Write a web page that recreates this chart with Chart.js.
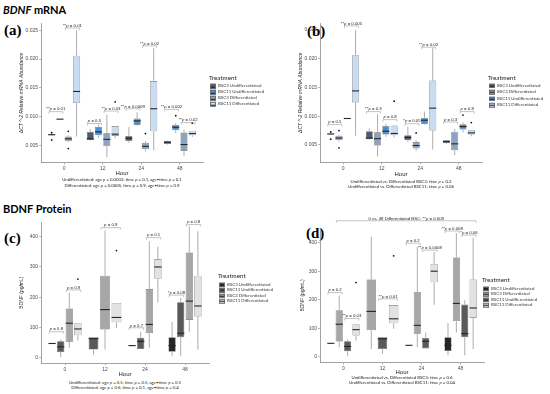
<!DOCTYPE html>
<html>
<head>
<meta charset="utf-8">
<script src="https://cdn.jsdelivr.net/npm/chart.js@4.4.1/dist/chart.umd.min.js"></script>
<style>
  body { margin: 0; background: #fff; }
  #page { position: relative; width: 550px; height: 394px; overflow: hidden; background: #fff; }
  canvas { position: absolute; }
  .t { position: absolute; white-space: nowrap; line-height: 1; color: #1a1a1a; }
  .mid { transform: translate(-50%, -50%); }
  .left { transform: translateY(-50%); }
  .head { font-family: Lato, 'Open Sans', sans-serif; font-weight: bold; font-size: 11px; color: #000; }
  .tag { font-family: 'Liberation Serif', 'DejaVu Serif', serif; font-weight: bold; font-size: 15px; color: #000; }
  .cap { font-family: Lato, 'Open Sans', sans-serif; font-size: 4.3px; color: #222; }
  .lgTitle { font-family: Lato, 'Open Sans', sans-serif; font-size: 6.2px; color: #222; }
  .lgItem { font-family: Lato, 'Open Sans', sans-serif; font-size: 4.4px; color: #333; }
  .key { position: absolute; width: 6px; height: 4.5px; border: 0.5px solid #6b6b6b; box-sizing: border-box; transform: translateY(-50%); }
  .key::after { content: ''; position: absolute; left: 0; right: 0; top: 1.4px; height: 0.8px; background: #222; }
</style>
</head>
<body>
<div id="page">
  <div class="t head left" style="left:3px;top:8.5px"><i>BDNF</i> mRNA</div>
  <div class="t head left" style="left:3px;top:207.5px">BDNF Protein</div>
  <div class="t tag left" style="left:4px;top:30px">(a)</div>
  <div class="t tag left" style="left:307px;top:31px">(b)</div>
  <div class="t tag left" style="left:4px;top:238px">(c)</div>
  <div class="t tag left" style="left:306px;top:233px">(d)</div>

  <canvas id="chartA"></canvas>
  <canvas id="chartB"></canvas>
  <canvas id="chartC"></canvas>
  <canvas id="chartD"></canvas>

  <div class="t cap mid" style="left:122px;top:180px">Undifferentiated: age <i>p</i> = 0.0003, time <i>p</i> = 0.1, age•time <i>p</i> = 0.1</div>
  <div class="t cap mid" style="left:122px;top:186px">Differentiated: age <i>p</i> = 0.0005, time <i>p</i> = 0.9, age•time <i>p</i> = 0.9</div>
  <div class="t cap mid" style="left:401px;top:181.5px">Undifferentiated vs. Differentiated BSC3: time <i>p</i> = 0.2</div>
  <div class="t cap mid" style="left:401px;top:187.3px">Undifferentiated vs. Differentiated BSC11: time <i>p</i> = 0.06</div>
  <div class="t cap mid" style="left:125px;top:382.5px">Undifferentiated: age <i>p</i> = 0.5, time <i>p</i> = 0.5, age•time <i>p</i> = 0.5</div>
  <div class="t cap mid" style="left:125px;top:387.7px">Differentiated: age <i>p</i> = 0.6, time <i>p</i> = 0.1, age•time <i>p</i> = 0.4</div>
  <div class="t cap mid" style="left:402px;top:377.5px">Undifferentiated vs. Differentiated BSC3: time <i>p</i> = 0.6</div>
  <div class="t cap mid" style="left:402px;top:383px">Undifferentiated vs. Differentiated BSC11: time <i>p</i> = 0.04</div>
</div>

<script>
// categories
const hours = ['0', '12', '24', '48'];
const treatments = ['BSC3 Undifferentiated', 'BSC11 Undifferentiated', 'BSC3 Differentiated', 'BSC11 Differentiated'];

// mRNA (ΔCT^-2), per hour: [min, q1, median, q3, max]
const mrnaBsc3Undiff  = [[0.0068, 0.00685, 0.0069, 0.0070, 0.00705], [0.0059, 0.0060, 0.0062, 0.0074, 0.0079], [0.0055, 0.0058, 0.0063, 0.0067, 0.0082], [0.0052, 0.0053, 0.0056, 0.0058, 0.0059]];
const mrnaBsc11Undiff = [[0.0096, 0.0096, 0.0096, 0.0096, 0.0096], [0.0064, 0.0068, 0.0074, 0.0083, 0.0087], [0.0085, 0.0086, 0.0093, 0.0097, 0.0108], [0.0072, 0.0077, 0.0082, 0.0086, 0.0089]];
const mrnaBsc3Diff    = [[0.0056, 0.0058, 0.0062, 0.0066, 0.0068], [0.0030, 0.0049, 0.0061, 0.0072, 0.0104], [0.0040, 0.0044, 0.0049, 0.0055, 0.0058], [0.0032, 0.0041, 0.0052, 0.0073, 0.0078]];
const mrnaBsc11Diff   = [[0.0066, 0.0124, 0.0144, 0.0206, 0.0250], [0.0063, 0.0067, 0.0070, 0.0084, 0.0084], [0.0042, 0.0075, 0.0114, 0.0162, 0.0219], [0.0065, 0.0068, 0.0071, 0.0076, 0.0076]];
const mrnaBsc3UndiffOut  = [[0.00725, 0.0060], [], [], []];
const mrnaBsc11UndiffOut = [[], [], [], [0.0102]];
const mrnaBsc3DiffOut    = [[0.0075, 0.0045], [], [0.0071], []];
const mrnaBsc11DiffOut   = [[], [0.0126], [], [0.0089]];
const mrnaTicks = [0.005, 0.010, 0.015, 0.020, 0.025];

// protein BDNF (pg/mL), per hour: [min, q1, median, q3, max]
const protBsc3Undiff  = [[47, 47, 47, 47, 47], null, [40, 40, 40, 40, 40], [5, 20, 40, 68, 118]];
const protBsc11Undiff = [[2, 19, 36, 54, 61], [10, 27, 63, 68, 68], [28, 29, 54, 66, 85], [5, 68, 81, 183, 198]];
const protBsc3Diff    = [[33, 53, 114, 163, 215], [27, 93, 159, 271, 421], [33, 81, 110, 227, 385], [85, 125, 187, 348, 434]];
const protBsc11Diff   = [[57, 74, 95, 114, 115], [98, 117, 133, 181, 181], [182, 261, 300, 326, 367], [27, 136, 171, 271, 418]];
const protBsc3UndiffOut  = [[], [], [], []];
const protBsc11UndiffOut = [[], [], [], []];
const protBsc3DiffOut    = [[], [], [], []];
const protBsc11DiffOut   = [[260], [354], [], []];
const protTicks = [0, 100, 200, 300, 400];

// comparison brackets: [hourA, seriesA, hourB, seriesB, value, label]
const bracketsA = [[0, 0, 0, 1, 0.0109, '**p = 0.01'], [0, 2, 0, 3, 0.0254, '**p = 0.01'], [1, 0, 1, 1, 0.00885, 'p = 0.5'], [1, 2, 1, 3, 0.0110, '**p = 0.03'],
                   [2, 0, 2, 1, 0.0114, '**p = 0.0009'], [2, 2, 2, 3, 0.0223, '**p = 0.02'], [3, 0, 3, 1, 0.0113, '**p = 0.002'], [3, 2, 3, 3, 0.0090, '**p = 0.02']];
const bracketsB = [[0, 0, 0, 1, 0.00857, 'p = 0.5'], [0, 2, 0, 3, 0.0257, '**p = 0.005'], [1, 0, 1, 1, 0.0108, '**p = 0.3'], [1, 2, 1, 3, 0.0094, 'p = 0.8'],
                   [2, 0, 2, 1, 0.0087, '*p = 0.05'], [2, 2, 2, 3, 0.0220, '**p = 0.02'], [3, 0, 3, 1, 0.0090, 'p = 0.3'], [3, 2, 3, 3, 0.0108, 'p = 0.8']];
const bracketsC = [[0, 0, 0, 1, 86, 'p = 0.8'], [0, 2, 0, 3, 224, 'p = 0.9'], [1, 2, 1, 3, 430, 'p = 0.9'], [2, 0, 2, 1, 99, 'p = 0.7'],
                   [2, 2, 2, 3, 397, 'p = 0.1'], [3, 0, 3, 1, 207, '*p = 0.08'], [3, 2, 3, 3, 440, 'p = 0.8']];
const bracketsD = [[0, 0, 0, 1, 225, 'p = 0.2'], [0, 2, 0, 3, 134, '**p = 0.03'], [1, 2, 1, 3, 203, '**p = 0.01'], [2, 0, 2, 1, 398, 'p = 0.2'],
                   [2, 2, 2, 3, 374, '**p = 0.0008'], [3, 0, 3, 1, 441, '**p = 0.008'], [3, 2, 3, 3, 427, '*p = 0.06'],
                   [0, 1, 3, 3, 477, '0 vs. 48 Differentiated BSC: **p = 0.009']];

const mrnaColors = ['#4e5c71', '#4a8fcf', '#8ea3bf', '#c8dcf3'];
const protColors = ['#262626', '#5a5a5a', '#a7a7a7', '#e2e2e2'];

const mrnaSeries = [
  { stats: mrnaBsc3Undiff, out: mrnaBsc3UndiffOut },
  { stats: mrnaBsc11Undiff, out: mrnaBsc11UndiffOut },
  { stats: mrnaBsc3Diff, out: mrnaBsc3DiffOut },
  { stats: mrnaBsc11Diff, out: mrnaBsc11DiffOut }
].map((s, i) => ({ ...s, name: treatments[i], color: mrnaColors[i] }));

const protSeries = [
  { stats: protBsc3Undiff, out: protBsc3UndiffOut },
  { stats: protBsc11Undiff, out: protBsc11UndiffOut },
  { stats: protBsc3Diff, out: protBsc3DiffOut },
  { stats: protBsc11Diff, out: protBsc11DiffOut }
].map((s, i) => ({ ...s, name: treatments[i], color: protColors[i] }));

// (b) and (d) group by line instead of by state
const byLine = [0, 2, 1, 3];

const LABEL_FONT = '4.3px "Liberation Sans", Arial, sans-serif';

function drawPText(ctx, text, cx, y) {
  const i = text.indexOf('p =');
  const parts = i < 0 ? [[text, '']] : [[text.slice(0, i), ''], ['p', 'italic '], [text.slice(i + 1), '']];
  let total = 0;
  parts.forEach(p => { ctx.font = p[1] + LABEL_FONT; p.w = ctx.measureText(p[0]).width; total += p.w; });
  let x = cx - total / 2;
  ctx.textAlign = 'left';
  ctx.textBaseline = 'alphabetic';
  parts.forEach(p => { ctx.font = p[1] + LABEL_FONT; ctx.fillText(p[0], x, y); x += p.w; });
}

const boxPlugin = {
  id: 'boxes',
  beforeDatasetsDraw(chart) {
    const ctx = chart.ctx, y = chart.scales.y;
    ctx.save();
    ctx.strokeStyle = '#8a8a8a';
    ctx.lineWidth = 0.7;
    chart.data.datasets.forEach((ds, d) => {
      chart.getDatasetMeta(d).data.forEach((el, i) => {
        const s = ds.stats[i];
        if (!s) return;
        ctx.beginPath();
        ctx.moveTo(el.x, y.getPixelForValue(s[4]));
        ctx.lineTo(el.x, y.getPixelForValue(s[3]));
        ctx.moveTo(el.x, y.getPixelForValue(s[1]));
        ctx.lineTo(el.x, y.getPixelForValue(s[0]));
        ctx.stroke();
      });
    });
    ctx.restore();
  },
  afterDatasetsDraw(chart, args, opts) {
    const ctx = chart.ctx, y = chart.scales.y;
    ctx.save();
    chart.data.datasets.forEach((ds, d) => {
      chart.getDatasetMeta(d).data.forEach((el, i) => {
        const s = ds.stats[i];
        if (!s) return;
        const ym = y.getPixelForValue(s[2]);
        ctx.strokeStyle = '#262626';
        ctx.lineWidth = 1.1;
        ctx.beginPath();
        ctx.moveTo(el.x - el.width / 2, ym);
        ctx.lineTo(el.x + el.width / 2, ym);
        ctx.stroke();
        ctx.fillStyle = '#111';
        (ds.out[i] || []).forEach(v => {
          ctx.beginPath();
          ctx.arc(el.x, y.getPixelForValue(v), 0.9, 0, Math.PI * 2);
          ctx.fill();
        });
      });
    });
    // p-value brackets
    ctx.strokeStyle = '#9a9a9a';
    ctx.lineWidth = 0.6;
    ctx.fillStyle = '#1a1a1a';
    (opts.brackets || []).forEach(b => {
      const ea = chart.getDatasetMeta(b[1]).data[b[0]];
      const eb = chart.getDatasetMeta(b[3]).data[b[2]];
      const xa = ea.x - ea.width * 0.4, xb = eb.x + eb.width * 0.4;
      const yy = y.getPixelForValue(b[4]);
      ctx.beginPath();
      ctx.moveTo(xa, yy + 2);
      ctx.lineTo(xa, yy);
      ctx.lineTo(xb, yy);
      ctx.lineTo(xb, yy + 2);
      ctx.stroke();
      drawPText(ctx, b[5], (xa + xb) / 2, yy - 1.2);
    });
    ctx.restore();
  }
};

function makePanel(id, geo, series, yRange, ticks, fmt, yTitle, yItalic, brackets) {
  const cv = document.getElementById(id);
  cv.width = geo.w; cv.height = geo.h;
  cv.style.left = geo.left + 'px'; cv.style.top = geo.top + 'px';
  cv.style.width = geo.w + 'px'; cv.style.height = geo.h + 'px';

  const yTitleSize = 5;
  const padLeft = geo.yTitleX - yTitleSize * 0.6 - geo.left;
  const yAxisW = geo.area.l - geo.left - padLeft;
  const xAxisH = geo.top + geo.h - geo.area.b;
  const tickColor = '#4d4d4d';
  const lineColor = '#8a8a8a';

  new Chart(cv.getContext('2d'), {
    type: 'bar',
    data: {
      labels: hours,
      datasets: series.map(s => ({
        label: s.name,
        data: s.stats.map(v => v ? [v[1], v[3]] : null),
        stats: s.stats,
        out: s.out,
        backgroundColor: s.color,
        borderColor: '#6b6b6b',
        borderWidth: 0.6,
        borderSkipped: false,
        categoryPercentage: 0.86,
        barPercentage: 0.85,
        skipNull: true
      }))
    },
    options: {
      responsive: false,
      animation: false,
      events: [],
      layout: { padding: { left: padLeft, right: geo.left + geo.w - geo.area.r, top: geo.area.t - geo.top, bottom: 0 } },
      plugins: { legend: { display: false }, tooltip: { enabled: false }, boxes: { brackets } },
      scales: {
        x: {
          offset: true,
          afterBuildTicks: s => { s._startValue = -0.6; s._valueRange = 4.2; },
          afterFit: s => { s.height = xAxisH; },
          grid: { display: true, drawOnChartArea: false, offset: false, tickLength: 2, color: lineColor, lineWidth: 0.6 },
          border: { display: true, color: lineColor, width: 0.8 },
          ticks: { color: tickColor, padding: 1, font: { size: 5, family: 'Liberation Sans' }, maxRotation: 0 },
          title: { display: true, text: 'Hour', color: '#222', padding: 0, font: { size: 6, family: 'Liberation Sans', lineHeight: 1.2 } }
        },
        y: {
          min: yRange[0], max: yRange[1],
          afterBuildTicks: s => { s.ticks = ticks.map(v => ({ value: v })); },
          afterFit: s => { s.width = yAxisW; },
          grid: { display: true, drawOnChartArea: false, tickLength: 2, color: lineColor, lineWidth: 0.6 },
          border: { display: true, color: lineColor, width: 0.8 },
          ticks: { color: tickColor, padding: 1, font: { size: 5, family: 'Liberation Sans' }, callback: v => fmt(v) },
          title: { display: true, text: yTitle, color: '#222', padding: 0,
                   font: { size: yTitleSize, family: 'Liberation Sans', style: yItalic ? 'italic' : 'normal', lineHeight: 1.2 } }
        }
      }
    },
    plugins: [boxPlugin]
  });
}

function makeLegend(x, yTitle, ys, series) {
  const page = document.getElementById('page');
  const t = document.createElement('div');
  t.className = 't lgTitle left';
  t.style.left = x + 'px'; t.style.top = yTitle + 'px';
  t.textContent = 'Treatment';
  page.appendChild(t);
  series.forEach((s, i) => {
    const k = document.createElement('div');
    k.className = 'key';
    k.style.left = (x + 1) + 'px'; k.style.top = ys[i] + 'px';
    k.style.background = s.color;
    page.appendChild(k);
    const l = document.createElement('div');
    l.className = 't lgItem left';
    l.style.left = (x + 9) + 'px'; l.style.top = ys[i] + 'px';
    l.textContent = s.name;
    page.appendChild(l);
  });
}

const fmtMrna = v => v.toFixed(3);
const fmtProt = v => String(v);
const mrnaTitle = 'ΔCT ^-2 Relative mRNA Abundance';
const protTitle = 'BDNF (pg/mL)';

const mrnaByLine = byLine.map(i => mrnaSeries[i]);
const protByLine = byLine.map(i => protSeries[i]);

makePanel('chartA', { left: 0, top: 0, w: 275, h: 177, area: { l: 41, r: 203, t: 23.3, b: 162.7 }, yTitleX: 22 },
  mrnaSeries, [0.00206, 0.0262], mrnaTicks, fmtMrna, mrnaTitle, true, bracketsA);
makePanel('chartB', { left: 275, top: 0, w: 275, h: 178, area: { l: 320, r: 482, t: 23, b: 162.4 }, yTitleX: 301 },
  mrnaByLine, [0.00197, 0.0262], mrnaTicks, fmtMrna, mrnaTitle, true, bracketsB);
makePanel('chartC', { left: 0, top: 190, w: 275, h: 188, area: { l: 41, r: 209, t: 222, b: 363.3 }, yTitleX: 22 },
  protSeries, [-18.5, 448.6], protTicks, fmtProt, protTitle, false, bracketsC);
makePanel('chartD', { left: 275, top: 190, w: 275, h: 186, area: { l: 320, r: 484, t: 228.3, b: 362.7 }, yTitleX: 303 },
  protByLine, [-21, 450.5], protTicks, fmtProt, protTitle, false, bracketsD);

makeLegend(209, 77.5, [86.3, 92.3, 98.3, 104.3], mrnaSeries);
makeLegend(488, 78.3, [85.5, 92, 98.5, 105], mrnaByLine);
makeLegend(218, 276, [284.5, 290, 295.5, 301], protSeries);
makeLegend(482, 279.5, [288.5, 294, 299.5, 305], protByLine);
</script>
</body>
</html>
